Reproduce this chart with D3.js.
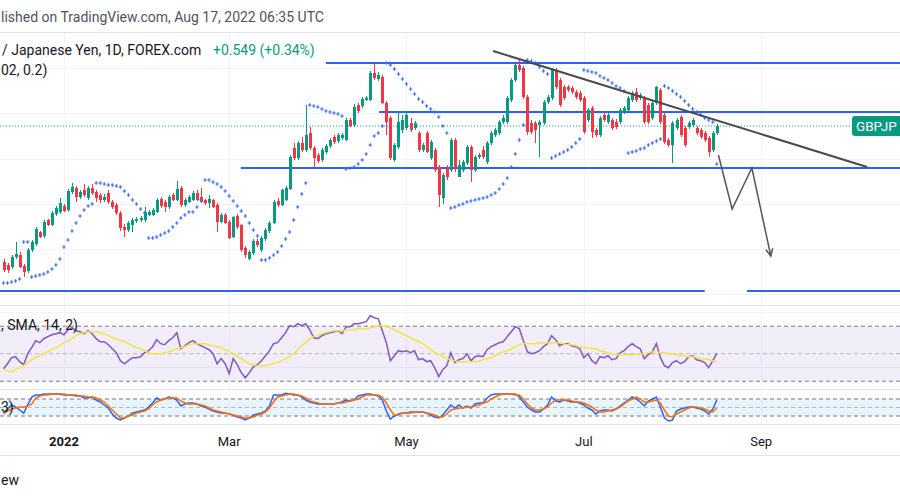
<!DOCTYPE html>
<html><head><meta charset="utf-8">
<script src="https://cdn.jsdelivr.net/npm/d3@7"></script>
<style>
body{margin:0;background:#fff;overflow:hidden}
svg{display:block;font-family:Roboto,"Noto Sans",Arial,sans-serif}
</style>
</head><body>
<svg id="chart" width="900" height="500"></svg>
<script>
// ---------------- DATA ----------------
const firstBarDate = "2021-12-13";           // first daily bar shown (weekdays only)
// visible parts of the texts (the screenshot is cropped at its edges)
const symbolText = "GBPJP";
const titleText = "/ Japanese Yen, 1D, FOREX.com";
const changeText = "+0.549 (+0.34%)";
const publishedText = "lished on TradingView.com, Aug 17, 2022 06:35 UTC";
const sarLegend = "02, 0.2)";
const rsiLegend = ", SMA, 14, 2)";
const stochLegend = "3)";
const footerText = "ew";

const open = [
149.8,149.5,149.3,150.3,150.5,149.4,148.9,151.0,151.6,152.8,
152.4,154.0,153.5,154.6,154.8,155.4,155.0,156.8,157.2,156.3,
157.0,156.2,157.2,156.8,156.5,156.0,156.7,155.8,155.5,154.7,
153.3,153.0,153.5,153.9,154.0,154.0,154.5,154.5,154.8,156.1,
155.8,155.3,156.5,156.0,157.2,155.5,155.8,156.0,156.7,156.3,
156.0,155.7,156.0,155.5,153.8,154.5,153.8,152.3,154.4,153.5,
151.2,150.1,150.7,151.9,151.0,152.1,152.9,153.7,155.9,155.5,
156.0,157.1,161.2,160.2,161.7,161.0,162.7,161.2,160.5,160.0,
160.8,161.4,162.3,161.9,162.2,162.0,164.0,163.5,165.5,165.4,
166.0,166.0,168.7,168.1,168.3,165.7,164.2,160.0,161.3,163.0,
163.2,163.7,163.2,162.7,161.0,162.7,160.2,161.0,159.3,156.2,
159.2,159.0,162.0,158.3,159.0,159.7,161.3,159.0,160.3,161.0,
159.8,161.7,162.5,162.7,163.8,163.8,166.0,168.0,169.5,169.2,
166.3,163.7,163.7,163.5,163.7,165.8,166.2,169.0,168.0,167.3,
167.3,167.2,166.8,166.7,166.2,164.0,165.2,163.0,162.5,164.5,
163.8,164.0,163.8,163.8,164.8,165.0,166.0,166.8,166.2,166.2,
165.5,164.2,165.7,167.0,164.5,162.0,161.5,163.2,164.3,163.2,
163.3,163.5,163.2,163.0,162.7,162.2,161.0,162.7];
const high = [
150.1,149.7,150.5,151.8,150.8,149.6,151.2,152.0,153.3,152.9,
154.0,154.1,154.9,155.4,156.2,155.6,157.1,157.7,157.4,157.0,
157.6,157.4,157.6,157.0,156.7,156.6,157.0,156.0,155.7,154.9,
153.6,153.9,154.2,154.3,154.4,155.3,155.0,155.2,156.2,156.3,
156.0,156.5,156.7,157.9,157.4,156.2,156.5,156.9,157.0,157.2,
156.1,156.5,156.1,155.7,154.7,154.7,154.0,154.4,154.6,153.6,
151.4,151.0,152.1,152.1,152.4,153.2,153.9,156.0,156.2,157.1,
157.4,160.5,161.7,161.9,162.3,165.5,163.3,161.4,160.7,161.2,
161.6,162.2,162.5,162.7,162.7,164.2,164.2,165.6,165.7,166.3,
166.4,168.9,169.7,168.8,168.5,165.9,164.4,161.7,164.8,164.5,
164.8,164.2,163.9,162.9,161.7,162.9,162.0,161.2,159.5,158.7,
159.5,162.2,162.2,160.0,160.0,161.5,161.5,160.5,160.7,161.4,
161.9,162.9,163.2,164.0,164.5,166.4,168.2,169.7,170.0,169.4,
166.5,164.0,163.9,164.0,166.0,166.5,169.2,169.2,168.2,167.5,
167.5,167.4,167.0,166.9,166.4,165.2,165.4,163.2,164.4,164.7,
164.7,164.2,164.1,165.2,165.4,166.4,166.9,167.2,166.7,166.4,
165.7,165.9,167.4,167.2,164.7,162.2,163.9,164.2,164.5,163.4,
163.9,164.2,163.4,163.2,162.9,162.4,162.9,163.6];
const low = [
148.8,148.7,149.1,150.1,149.2,148.3,148.7,150.8,151.4,152.2,
152.2,153.4,153.4,154.4,154.6,154.8,154.8,156.6,155.8,156.1,
156.3,156.0,156.5,155.8,155.7,155.8,155.6,155.1,154.5,152.9,
152.3,152.8,152.8,153.7,153.8,153.8,154.4,154.4,154.7,155.2,
154.8,155.1,155.9,155.9,155.3,155.3,155.7,155.9,155.9,155.7,
155.5,155.2,155.2,152.8,153.7,153.6,152.1,152.2,153.1,150.8,
150.2,150.0,150.5,151.3,150.8,151.9,152.7,153.6,155.3,155.4,
155.9,157.0,160.0,160.0,160.8,160.8,161.0,159.2,159.7,159.8,
160.6,161.2,161.6,161.7,162.0,161.9,163.3,163.3,164.7,165.2,
165.9,165.9,168.0,167.9,165.6,162.5,160.0,159.8,161.1,162.7,
163.0,162.8,163.0,160.8,160.8,160.7,160.0,158.8,155.3,155.6,
158.0,158.8,158.8,158.3,158.8,159.5,157.8,158.8,160.1,160.1,
159.6,161.5,162.3,162.5,163.6,163.6,165.8,167.8,168.8,166.1,
162.5,162.6,161.7,160.3,163.5,165.6,166.0,167.1,165.3,166.0,
166.8,166.6,166.1,165.8,162.6,163.8,162.2,162.3,162.3,163.8,
163.6,163.0,163.1,163.6,164.6,164.8,165.8,165.8,166.0,163.6,
163.6,164.0,165.5,163.6,161.6,161.3,159.7,163.0,162.3,161.3,
163.1,163.3,162.5,162.1,161.8,160.3,160.8,162.5];
const close = [
149.0,149.0,150.3,150.6,149.3,148.8,151.0,151.8,153.1,152.3,
153.8,153.5,154.7,155.2,155.7,154.9,156.9,157.3,156.3,156.8,
156.5,157.2,156.7,156.2,156.0,156.3,155.8,155.3,154.7,153.2,
153.0,153.7,154.0,154.1,154.2,154.8,154.8,155.0,156.0,155.4,
155.3,156.3,156.0,157.1,155.5,156.0,156.3,156.7,156.0,155.8,
155.7,156.1,155.3,153.8,154.5,153.7,152.2,154.3,153.3,151.0,
150.5,150.8,151.9,151.5,152.2,153.0,153.7,155.8,155.5,157.0,
157.2,160.3,160.2,161.7,161.0,162.5,161.2,160.2,159.9,161.0,
161.4,162.0,161.8,162.5,162.5,164.0,163.4,165.3,164.9,166.1,
166.2,168.7,168.2,168.5,165.7,163.8,160.2,161.5,163.8,164.0,
164.5,163.0,163.7,161.0,161.5,160.8,161.8,159.0,156.5,158.5,
158.3,162.0,159.2,159.5,159.8,161.3,159.0,160.3,160.5,160.3,
161.7,162.7,163.0,163.8,164.2,166.2,168.0,169.5,169.0,166.3,
162.8,162.8,163.0,163.8,165.8,166.3,169.0,167.3,165.5,166.2,
167.0,166.8,166.3,166.0,162.8,165.0,162.8,162.5,164.2,164.0,
164.5,163.2,163.3,165.0,165.2,166.2,166.7,166.0,166.5,163.8,
163.8,165.7,167.3,163.8,161.8,161.5,163.7,164.0,162.5,161.5,
163.7,164.0,162.7,162.3,162.0,160.8,162.7,163.4];
// Parabolic SAR (0.02, 0.02, 0.2)
const sar = [
147.7,147.7,147.8,147.9,148.1,151.8,151.8,148.3,148.4,148.5,
148.6,148.8,149.1,149.5,150.1,151.3,152.0,152.9,153.7,154.4,
155.0,155.4,155.6,157.7,157.7,157.6,157.5,157.5,157.4,157.3,
156.9,156.5,156.0,155.6,155.1,154.7,152.2,152.2,152.3,152.5,
152.7,152.9,153.3,153.7,154.2,154.5,154.8,154.8,155.3,156.0,
158.0,158.0,157.8,157.6,157.3,156.9,156.4,155.9,155.4,154.9,
154.4,153.7,153.0,152.4,150.0,150.0,150.2,150.5,150.8,151.4,
152.1,152.8,154.0,155.3,156.6,157.7,165.5,165.4,165.3,165.1,
164.9,164.8,164.7,164.6,164.4,159.1,159.2,159.3,159.6,160.0,
160.6,161.5,162.4,162.7,163.4,169.7,169.5,169.1,168.6,168.1,
167.6,167.1,166.6,166.1,165.8,165.4,165.1,164.8,164.3,163.4,
162.7,155.2,155.3,155.5,155.6,155.8,155.9,156.0,156.1,156.2,
156.3,156.5,156.7,157.1,157.6,158.2,159.3,160.6,162.0,163.5,
170.0,169.9,169.7,169.3,168.9,168.6,160.2,160.4,160.6,160.8,
161.0,161.3,161.7,162.1,169.0,168.9,168.8,168.7,168.4,168.2,
168.0,167.7,167.4,167.2,166.9,160.7,160.8,160.9,161.1,161.2,
161.5,161.7,161.9,162.1,167.4,167.2,166.9,166.6,166.3,165.9,
165.5,165.1,164.8,164.5,164.2,164.0,163.8,159.6];
// RSI (14, close) and its SMA (14)
const rsi = [
39.1,42.7,47.1,47.8,44.2,42.0,50.0,54.4,59.5,58.0,
60.9,62.4,63.8,64.5,65.3,63.8,67.4,68.9,66.7,66.0,
64.5,66.7,64.5,60.9,58.7,58.7,56.5,53.6,50.7,44.9,
42.7,44.9,47.1,47.1,47.8,50.7,52.2,55.1,60.2,57.3,
56.5,59.5,61.6,65.3,53.6,55.8,58.0,59.5,57.3,55.8,
54.4,52.9,50.0,42.7,46.4,42.7,35.5,46.4,42.0,36.2,
32.5,36.2,40.5,42.0,44.9,48.5,52.2,57.3,58.0,61.6,
65.3,70.4,69.6,71.8,70.4,71.8,67.4,61.6,60.9,63.1,
64.5,65.3,66.0,66.7,64.5,69.6,69.6,71.8,71.8,72.5,
73.3,77.6,76.2,75.4,66.7,58.0,44.9,48.5,52.2,51.5,
52.2,50.7,52.2,45.6,46.4,44.2,44.9,39.8,33.3,38.4,
41.3,50.7,43.5,45.6,46.4,50.0,44.9,47.8,48.5,47.8,
52.9,55.1,56.5,58.0,58.7,62.4,66.0,69.6,68.2,59.5,
51.5,50.0,50.7,52.2,55.1,57.3,63.1,60.2,55.8,57.3,
57.3,55.8,55.1,53.6,47.1,50.0,44.9,42.7,47.8,47.1,
48.5,45.6,46.4,50.7,52.2,55.1,57.3,55.1,53.6,46.4,
49.3,51.5,57.3,47.1,41.3,39.8,43.5,44.9,42.7,44.2,
47.8,48.5,45.6,44.9,43.5,39.8,44.9,50.0];
const rsiMA = [
38.4,37.6,36.9,38.4,39.8,41.3,43.5,45.6,47.1,48.5,
50.0,51.5,52.9,54.4,55.8,58.0,59.5,60.9,63.1,64.5,
65.3,66.0,66.0,66.0,65.3,64.5,63.1,61.6,60.9,59.5,
58.7,57.3,55.8,54.4,53.6,52.2,50.7,50.0,50.0,50.0,
50.7,51.5,52.2,53.6,54.4,55.1,56.5,57.3,57.3,57.3,
57.3,56.5,55.8,55.1,54.4,52.9,51.5,50.0,47.8,46.4,
44.2,42.7,42.0,41.3,41.3,41.3,42.0,42.7,43.5,44.9,
46.4,47.8,50.0,52.9,55.8,58.0,60.9,62.4,63.1,64.5,
65.3,66.0,66.7,66.7,66.7,67.4,67.4,67.4,68.2,68.2,
68.2,68.9,69.6,70.4,70.4,69.6,68.9,67.4,66.0,64.5,
63.1,61.6,60.2,58.7,57.3,55.1,52.9,50.7,49.3,47.8,
46.4,45.6,44.9,44.2,44.2,44.2,44.2,44.2,44.9,45.6,
46.4,47.1,48.5,50.0,51.5,52.2,53.6,55.1,56.5,57.3,
57.3,57.3,57.3,58.0,58.0,58.0,58.0,58.0,58.0,57.3,
56.5,56.5,55.8,55.1,54.4,54.4,53.6,53.6,52.2,51.5,
50.7,50.0,49.3,49.3,49.3,49.3,49.3,49.3,50.0,50.0,
50.7,51.5,51.5,50.7,50.7,50.0,50.0,49.3,48.5,48.5,
47.8,47.8,47.1,46.4,46.4,45.6,44.9,44.2];
// Stochastic %K and %D
const stochK = [
30.6,44.7,58.8,51.8,41.2,30.6,58.8,87.1,94.1,94.1,
97.7,97.7,97.7,97.7,97.7,94.1,94.1,94.1,90.6,90.6,
83.5,83.5,87.1,76.5,69.4,58.8,48.2,27.1,12.9,5.9,
12.9,20.0,30.6,34.1,37.7,41.2,51.8,65.9,83.5,76.5,
80.0,87.1,83.5,76.5,55.3,62.4,65.9,65.9,62.4,55.3,
51.8,44.7,37.7,34.1,30.6,30.6,27.1,23.5,16.5,12.9,
5.9,12.9,23.5,27.1,30.6,37.7,55.3,94.1,94.1,94.1,
100,97.7,94.1,94.1,87.1,76.5,69.4,65.9,62.4,62.4,
62.4,62.4,62.4,65.9,69.4,76.5,73.0,76.5,90.6,94.1,
97.7,97.7,94.1,90.6,76.5,37.7,9.4,20.0,27.1,30.6,
30.6,34.1,34.1,34.1,34.1,30.6,23.5,16.5,12.9,23.5,
41.2,58.8,48.2,58.8,48.2,55.3,48.2,62.4,65.9,65.9,
83.5,94.1,97.7,97.7,97.7,97.7,97.7,97.7,87.1,69.4,
51.8,41.2,34.1,34.1,44.7,58.8,87.1,73.0,69.4,76.5,
73.0,69.4,69.4,65.9,58.8,48.2,41.2,27.1,37.7,41.2,
41.2,37.7,44.7,55.3,65.9,76.5,87.1,80.0,69.4,55.3,
73.0,80.0,87.1,51.8,12.9,2.4,5.9,37.7,44.7,48.2,
51.8,51.8,48.2,44.7,37.7,27.1,44.7,76.5];
const stochD = [
27.1,37.7,44.7,48.2,51.8,51.8,55.3,62.4,83.5,90.6,
94.1,94.1,97.7,97.7,97.7,97.7,94.1,94.1,94.1,90.6,
90.6,87.1,87.1,83.5,76.5,69.4,55.3,41.2,27.1,12.9,
12.9,20.0,23.5,30.6,34.1,37.7,44.7,58.8,69.4,76.5,
80.0,83.5,83.5,83.5,73.0,65.9,62.4,62.4,62.4,58.8,
55.3,48.2,41.2,37.7,34.1,30.6,27.1,23.5,20.0,16.5,
12.9,12.9,16.5,23.5,27.1,34.1,48.2,69.4,87.1,90.6,
94.1,97.7,97.7,94.1,90.6,83.5,73.0,69.4,65.9,62.4,
62.4,62.4,62.4,65.9,65.9,69.4,73.0,76.5,80.0,87.1,
94.1,94.1,94.1,94.1,87.1,65.9,41.2,23.5,23.5,30.6,
30.6,30.6,34.1,34.1,34.1,30.6,27.1,23.5,16.5,16.5,
27.1,41.2,44.7,48.2,48.2,51.8,51.8,55.3,58.8,65.9,
69.4,80.0,87.1,94.1,97.7,97.7,97.7,94.1,94.1,80.0,
62.4,48.2,41.2,41.2,44.7,51.8,65.9,76.5,76.5,76.5,
76.5,73.0,69.4,69.4,65.9,58.8,51.8,41.2,34.1,34.1,
37.7,41.2,44.7,51.8,62.4,73.0,80.0,87.1,80.0,69.4,
69.4,73.0,76.5,65.9,41.2,20.0,16.5,27.1,34.1,41.2,
48.2,51.8,51.8,48.2,44.7,37.7,34.1,48.2];

// drawn levels (bar number, price)
const levels = [
  {price:169.7, fromBar:80,   toBar:240},
  {price:164.8, fromBar:93.2, toBar:240},
  {price:159.2, fromBar:58.9, toBar:240},
  {price:146.9, fromBar:-5,   toBar:174},
  {price:146.9, fromBar:184.5,toBar:240}
];
const trendLine = [{bar:121.5, price:170.9},{bar:214.3, price:159.3}];
const projection = [{bar:177.4, price:160.5},{bar:180.8, price:155.1},{bar:185.7, price:159.2},{bar:190.4, price:150.4}];
const priceGrid = [146.6,151.1,155.6,160.1,164.7,169.2];
const tickDates = ["2022-01-03","2022-03-01","2022-05-02","2022-07-01","2022-09-01"];
const tickLabels = ["2022","Mar","May","Jul","Sep"];
const rsiLevels = [70,50,30];
const rsiGrid = [80,40];
const stochLevels = [80,50,20];

// ---------------- CHART ----------------
const svg = d3.select("#chart");
const W = 900;

// bar dates (weekdays) for locating month ticks
const dates = [];
{ let d = new Date(firstBarDate + "T00:00:00Z");
  while (dates.length < 260) { const wd = d.getUTCDay(); if (wd !== 0 && wd !== 6) dates.push(d.toISOString().slice(0,10)); d = new Date(d.getTime() + 86400000); } }

const x = d3.scaleLinear().domain([0, open.length - 1]).range([3.5, 716.8]);
const y = d3.scaleLinear().domain([176, 126]).range([0, 500]);
const yR = d3.scaleLinear().domain([30, 70]).range([381.2, 326.2]);
const yS = d3.scaleLinear().domain([20, 80]).range([416, 399]);

const GRID = "#f0f3fa", SEP = "#e0e3eb", TXT = "#131722";
const UP = "#089981", DN = "#f23645", BLUE = "#2962ff";
const FS = 14;

const defs = svg.append("defs");
defs.append("clipPath").attr("id","cMain").append("rect").attr("x",0).attr("y",33).attr("width",W).attr("height",272);
defs.append("clipPath").attr("id","cRsi").append("rect").attr("x",0).attr("y",306).attr("width",W).attr("height",83);
defs.append("clipPath").attr("id","cSto").append("rect").attr("x",0).attr("y",390).attr("width",W).attr("height",34);

// header
svg.append("text").attr("x",1).attr("y",17).attr("dominant-baseline","central")
  .attr("font-size",FS).attr("fill","#50535e").text(publishedText);
svg.append("line").attr("x1",0).attr("x2",W).attr("y1",32.5).attr("y2",32.5).attr("stroke",SEP);

// vertical grid at month ticks
const tickIdx = tickDates.map(t => dates.indexOf(t));
svg.append("g").selectAll("line").data(tickIdx).join("line")
  .attr("x1",d=>Math.round(x(d))+0.5).attr("x2",d=>Math.round(x(d))+0.5)
  .attr("y1",33).attr("y2",424).attr("stroke",GRID);

// main horizontal grid
svg.append("g").selectAll("line").data(priceGrid).join("line")
  .attr("x1",0).attr("x2",W).attr("y1",d=>Math.round(y(d))+0.5).attr("y2",d=>Math.round(y(d))+0.5).attr("stroke",GRID);

// panel separators
[305.5, 389.5, 424.5, 455.5].forEach(v => svg.append("line").attr("x1",0).attr("x2",W).attr("y1",v).attr("y2",v).attr("stroke",SEP));

// RSI panel
svg.append("g").selectAll("line").data(rsiGrid).join("line")
  .attr("x1",0).attr("x2",W).attr("y1",d=>Math.round(yR(d))+0.5).attr("y2",d=>Math.round(yR(d))+0.5).attr("stroke",GRID);
svg.append("rect").attr("x",0).attr("width",W).attr("y",yR(70)).attr("height",yR(30)-yR(70)).attr("fill","rgba(126,87,194,0.1)");
svg.append("g").selectAll("line").data(rsiLevels).join("line")
  .attr("x1",0).attr("x2",W).attr("y1",d=>yR(d)).attr("y2",d=>yR(d))
  .attr("stroke","#787b86").attr("stroke-opacity",d=>d===50?0.5:1).attr("stroke-dasharray","4,3");

// Stoch panel
svg.append("rect").attr("x",0).attr("width",W).attr("y",yS(80)).attr("height",yS(20)-yS(80)).attr("fill","rgba(33,150,243,0.1)");
svg.append("g").selectAll("line").data(stochLevels).join("line")
  .attr("x1",0).attr("x2",W).attr("y1",d=>yS(d)).attr("y2",d=>yS(d))
  .attr("stroke","#787b86").attr("stroke-opacity",d=>d===50?0.5:1).attr("stroke-dasharray","4,3");

// main chart
const main = svg.append("g").attr("clip-path","url(#cMain)");
const last = close.length - 1;
const lastY = y(close[last]);
main.append("line").attr("x1",0).attr("x2",852).attr("y1",lastY).attr("y2",lastY)
  .attr("stroke",UP).attr("stroke-dasharray","1,2");

main.append("g").selectAll("line").data(levels).join("line")
  .attr("x1",d=>x(d.fromBar)).attr("x2",d=>x(d.toBar)).attr("y1",d=>y(d.price)).attr("y2",d=>y(d.price))
  .attr("stroke",BLUE).attr("stroke-width",2);

const bars = d3.range(open.length);
const cg = main.append("g");
cg.selectAll("line").data(bars).join("line")
  .attr("x1",i=>Math.round(x(i))+0.5).attr("x2",i=>Math.round(x(i))+0.5)
  .attr("y1",i=>y(high[i])).attr("y2",i=>y(low[i]))
  .attr("stroke",i=>close[i]>=open[i]?UP:DN).attr("stroke-width",1);
cg.selectAll("rect").data(bars).join("rect")
  .attr("x",i=>Math.round(x(i))-1).attr("width",3)
  .attr("y",i=>y(Math.max(open[i],close[i])))
  .attr("height",i=>Math.max(1, Math.abs(y(open[i])-y(close[i]))))
  .attr("fill",i=>close[i]>=open[i]?UP:DN);

// SAR crosses
main.append("g").selectAll("path").data(bars).join("path")
  .attr("d",i=>{const cx=x(i), cy=y(sar[i]); return `M${cx-1.7},${cy}h3.4M${cx},${cy-1.7}v3.4`;})
  .attr("stroke","#3d6ff5").attr("stroke-width",1.2);

// trend line
const lineP = d3.line().x(d=>x(d.bar)).y(d=>y(d.price));
main.append("path").attr("d",lineP(trendLine)).attr("stroke","#4a4a4a").attr("stroke-width",2).attr("fill","none");

// projection arrow
main.append("path").attr("d",lineP(projection)).attr("stroke","#555").attr("stroke-width",1.5).attr("fill","none");
{ const a = projection[projection.length-2], b = projection[projection.length-1];
  const x1=x(a.bar), y1=y(a.price), x2=x(b.bar), y2=y(b.price);
  const ang = Math.atan2(y2-y1, x2-x1), L = 8, s = 0.45;
  main.append("path")
    .attr("d",`M${x2-L*Math.cos(ang-s)},${y2-L*Math.sin(ang-s)}L${x2},${y2}L${x2-L*Math.cos(ang+s)},${y2-L*Math.sin(ang+s)}`)
    .attr("stroke","#555").attr("stroke-width",1.5).attr("fill","none"); }

// RSI lines
const rg = svg.append("g").attr("clip-path","url(#cRsi)");
rg.append("path").attr("d",d3.line().x(i=>x(i)).y(i=>yR(rsi[i]))(bars)).attr("stroke","#7e57c2").attr("stroke-width",1.5).attr("fill","none");
rg.append("path").attr("d",d3.line().curve(d3.curveMonotoneX).x(i=>x(i)).y(i=>yR(rsiMA[i]))(bars)).attr("stroke","#f7e245").attr("stroke-width",1.5).attr("fill","none");

// Stoch lines
const sg = svg.append("g").attr("clip-path","url(#cSto)");
sg.append("path").attr("d",d3.line().x(i=>x(i)).y(i=>yS(stochK[i]))(bars)).attr("stroke","#2962ff").attr("stroke-width",1.5).attr("fill","none");
sg.append("path").attr("d",d3.line().x(i=>x(i)).y(i=>yS(stochD[i]))(bars)).attr("stroke","#ff6d00").attr("stroke-width",1.5).attr("fill","none");

// legends
svg.append("text").attr("x",2).attr("y",50).attr("dominant-baseline","central")
  .attr("font-size",FS).attr("fill",TXT).text(titleText);
svg.append("text").attr("x",213).attr("y",50).attr("dominant-baseline","central")
  .attr("font-size",FS).attr("fill",UP).text(changeText);
svg.append("text").attr("x",1).attr("y",70).attr("dominant-baseline","central")
  .attr("font-size",FS).attr("fill",TXT).text(sarLegend);
svg.append("text").attr("x",1).attr("y",325).attr("dominant-baseline","central")
  .attr("font-size",FS).attr("fill",TXT).text(rsiLegend);
svg.append("text").attr("x",1).attr("y",407).attr("dominant-baseline","central")
  .attr("font-size",FS).attr("fill",TXT).text(stochLegend);

// time axis labels
svg.append("g").selectAll("text").data(tickIdx).join("text")
  .attr("x",d=>x(d)).attr("y",441).attr("text-anchor","middle").attr("dominant-baseline","central")
  .attr("font-size",13).attr("fill",TXT).attr("font-weight",(d,k)=>k===0?"bold":"normal")
  .text((d,k)=>tickLabels[k]);

// last price label
svg.append("rect").attr("x",852).attr("y",lastY-10).attr("width",60).attr("height",20).attr("rx",3).attr("fill",UP);
svg.append("text").attr("x",856).attr("y",lastY).attr("dominant-baseline","central")
  .attr("font-size",13.5).attr("fill","#fff").text(symbolText);

// footer
svg.append("text").attr("x",1).attr("y",480).attr("dominant-baseline","central")
  .attr("font-size",FS).attr("fill",TXT).text(footerText);
</script>
</body></html>
